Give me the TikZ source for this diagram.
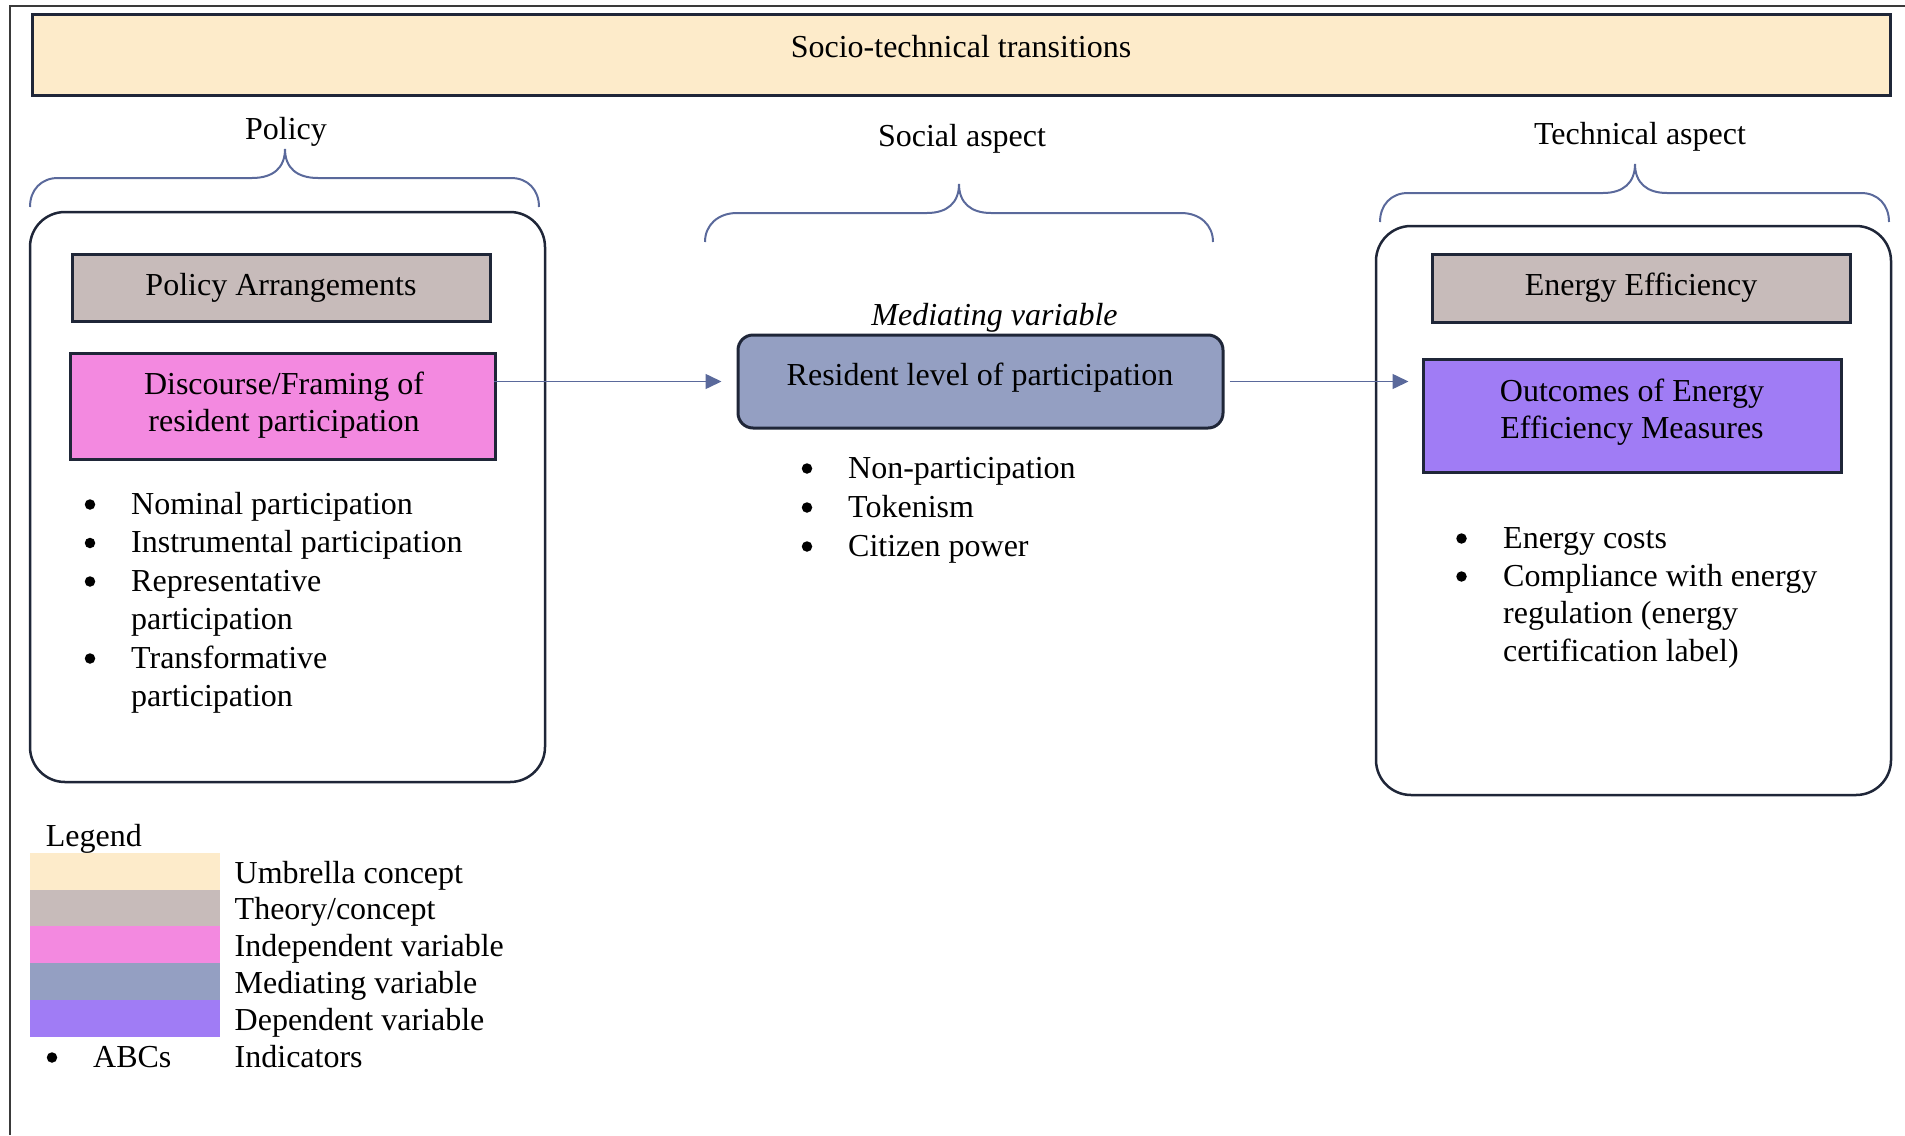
\documentclass[tikz,border=0pt]{standalone}
\usepackage{fontspec}
\setmainfont{Liberation Serif}
\usetikzlibrary{arrows.meta,calc}

\definecolor{navy}{HTML}{1F2638}
\definecolor{cUmbrella}{HTML}{FDEBCA}
\definecolor{cTheory}{HTML}{C7BBBA}
\definecolor{cIndep}{HTML}{F389E0}
\definecolor{cMediate}{HTML}{949FC2}
\definecolor{cDep}{HTML}{A07CF5}
\definecolor{bracecol}{HTML}{5A699B}
\definecolor{framecol}{HTML}{3A3A3A}

\begin{document}
\begin{tikzpicture}[x=1pt,y=-1pt,
  every node/.style={inner sep=0pt, font=\fontsize{32}{38}\selectfont},
  txt/.style={anchor=base},
  item/.style={anchor=base west},
  % list bullets, centred 9.5pt above the baseline of their line
  dot/.style={circle, fill=black, minimum size=10.5pt, yshift=9.5pt},
  box/.style={draw=navy, line width=3pt, rectangle},
  panel/.style={draw=navy, line width=2.5pt, rounded corners=35pt, rectangle},
  brace/.style={draw=bracecol, line width=2pt},
  conn/.style={draw=bracecol, line width=1.5pt, -{Triangle[length=16pt,width=15pt]}},
  swatch/.style={rectangle, minimum width=190pt, minimum height=37.3pt}
]
\useasboundingbox (0,0) rectangle (1905,1135);

% page frame (top and left rules)
\draw[framecol, line width=1.5pt] (1905,6) -- (10,6) -- (10,1135);

% umbrella banner
\node[box, fill=cUmbrella, minimum width=1858pt, minimum height=81pt] (banner) at (961,54.5) {};
\node[txt] (bannertxt) at (961,57.5) {Socio-technical transitions};

% column headings
\node[txt] (policyhd) at (286,139) {Policy};
\node[txt] (socialhd) at (962,146) {Social aspect};
\node[txt] (techhd) at (1640,144) {Technical aspect};

% curly braces under the headings
\draw[brace] (30,207) .. controls (30,190) and (41,178) .. (58,178) -- (252,178)
  .. controls (273,178) and (285,168) .. (285,149)
  .. controls (285,168) and (297,178) .. (318,178) -- (511,178)
  .. controls (528,178) and (539,190) .. (539,207);
\draw[brace] (705,242) .. controls (705,225) and (718,213) .. (737,213) -- (927,213)
  .. controls (947,213) and (959,203) .. (959,184)
  .. controls (959,203) and (971,213) .. (991,213) -- (1181,213)
  .. controls (1200,213) and (1213,225) .. (1213,242);
\draw[brace] (1380,222) .. controls (1380,205) and (1391,193) .. (1408,193) -- (1603,193)
  .. controls (1623,193) and (1635,183) .. (1635,164)
  .. controls (1635,183) and (1647,193) .. (1667,193) -- (1861,193)
  .. controls (1878,193) and (1889,205) .. (1889,222);

% side panels
\node[panel, minimum width=515pt, minimum height=570pt] (policypanel) at (287.5,497) {};
\node[panel, minimum width=515pt, minimum height=569pt] (techpanel) at (1633.5,510.5) {};

% policy column
\node[box, fill=cTheory, minimum width=418pt, minimum height=67pt] (policyarr) at (281,287.5) {};
\node[txt] (policyarrtxt) at (281,295) {Policy Arrangements};
\node[box, fill=cIndep, minimum width=425pt, minimum height=106pt] (discourse) at (283,406) {};
\node[txt] (discoursetxta) at (284,394) {Discourse/Framing of};
\node[txt] (discoursetxtb) at (284,431) {resident participation};

\node[dot] (pd1) at (90,514) {};
\node[item] (pi1) at (131,514) {Nominal participation};
\node[dot] (pd2) at (90,552.5) {};
\node[item] (pi2) at (131,552.5) {Instrumental participation};
\node[dot] (pd3) at (90,591) {};
\node[item] (pi3a) at (131,591) {Representative};
\node[item] (pi3b) at (131,629.5) {participation};
\node[dot] (pd4) at (90,668) {};
\node[item] (pi4a) at (131,668) {Transformative};
\node[item] (pi4b) at (131,706.5) {participation};

% social column
\node[txt] (medlabel) at (994.5,325) {\itshape Mediating variable};
\node[box, fill=cMediate, rounded corners=15pt, minimum width=485pt, minimum height=93pt] (resident) at (980.5,381.5) {};
\node[txt] (residenttxt) at (980,385) {Resident level of participation};

\node[dot] (sd1) at (807,478) {};
\node[item] (si1) at (848,478) {Non-participation};
\node[dot] (sd2) at (807,517) {};
\node[item] (si2) at (848,517) {Tokenism};
\node[dot] (sd3) at (807,556) {};
\node[item] (si3) at (848,556) {Citizen power};

% technical column
\node[box, fill=cTheory, minimum width=418pt, minimum height=68pt] (energyeff) at (1641,288) {};
\node[txt] (energyefftxt) at (1641,295) {Energy Efficiency};
\node[box, fill=cDep, minimum width=418pt, minimum height=113pt] (outcomes) at (1632,415.5) {};
\node[txt] (outcomestxta) at (1632,401) {Outcomes of Energy};
\node[txt] (outcomestxtb) at (1632,438) {Efficiency Measures};

\node[dot] (td1) at (1461.5,548) {};
\node[item] (ti1) at (1503,548) {Energy costs};
\node[dot] (td2) at (1461.5,586) {};
\node[item] (ti2a) at (1503,586) {Compliance with energy};
\node[item] (ti2b) at (1503,623.5) {regulation (energy};
\node[item] (ti2c) at (1503,661) {certification label)};

% causal links
\draw[conn, shorten <=-3pt, shorten >=15pt] (discourse.east |- resident.west) -- (resident.west);
\draw[conn, shorten <=5pt, shorten >=13pt] (resident.east) -- (outcomes.west |- resident.east);

% legend
\node[item] (legendhd) at (45.7,846) {Legend};
\node[swatch, fill=cUmbrella] (sw1) at (125,871.5) {};
\node[swatch, fill=cTheory] (sw2) at (125,908.25) {};
\node[swatch, fill=cIndep] (sw3) at (125,945) {};
\node[swatch, fill=cMediate] (sw4) at (125,981.75) {};
\node[swatch, fill=cDep] (sw5) at (125,1018.5) {};
\node[item] (lg1) at (234.5,883) {Umbrella concept};
\node[item] (lg2) at (234.5,919.5) {Theory/concept};
\node[item] (lg3) at (234.5,956) {Independent variable};
\node[item] (lg4) at (234.5,993) {Mediating variable};
\node[item] (lg5) at (234.5,1030) {Dependent variable};
\node[dot] (lgdot) at (52,1067) {};
\node[item] (lgabc) at (93,1067) {ABCs};
\node[item] (lg6) at (234.5,1067) {Indicators};
\end{tikzpicture}
\end{document}
